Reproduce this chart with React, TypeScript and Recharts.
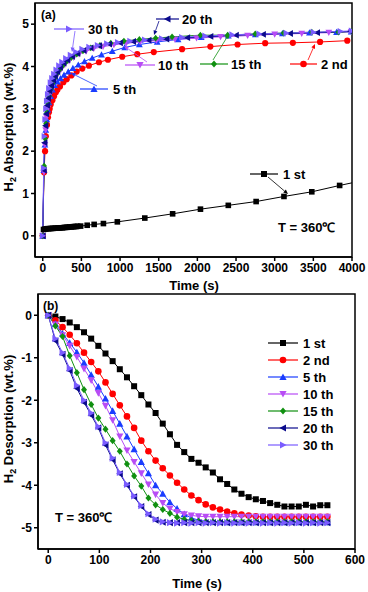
// Hydrogen absorption / desorption kinetics at 360 °C over cycling — two stacked panels.
import React from "react";
import { LineChart, Line, XAxis, YAxis, ReferenceArea } from "recharts";

const FONT = '"Liberation Sans", Arial, Helvetica, sans-serif';

// ---- series names / styles ----
const cycleNames = ["1 st", "2 nd", "5 th", "10 th", "15 th", "20 th", "30 th"];
const cycleColors = ["#000000", "#ff0000", "#1a3cff", "#b84cf5", "#109010", "#0a0a8c", "#7a5cff"];
const cycleShapes = ["square", "circle", "up", "down", "diamond", "left", "right"];

// ---- (a) absorption, time in s, value in wt.% ----
const abs1T = [0, 10, 30, 50, 70, 90, 110, 130, 150, 170, 190, 210, 230, 250, 270, 290, 310, 330, 350, 370, 390, 410, 430, 450, 490, 575, 665, 785, 965, 1320, 1680, 2040, 2400, 2760, 3120, 3480, 3840, 4200];
const abs1V = [0, 0.15, 0.16, 0.165, 0.17, 0.17, 0.175, 0.175, 0.18, 0.18, 0.185, 0.185, 0.19, 0.19, 0.195, 0.2, 0.2, 0.205, 0.21, 0.21, 0.215, 0.22, 0.22, 0.225, 0.23, 0.25, 0.27, 0.29, 0.33, 0.42, 0.52, 0.63, 0.72, 0.81, 0.93, 1.04, 1.19, 1.33];

const abs2T = [0, 17, 30, 40, 55, 68, 80, 90, 103, 125, 146, 170, 190, 223, 267, 310, 370, 439, 512, 597, 727, 843, 1028, 1222, 1436, 1802, 2168, 2520, 2877, 3235, 3587, 3939];
const abs2V = [0, 1.5, 2.0, 2.35, 2.62, 2.8, 2.92, 3.0, 3.1, 3.2, 3.3, 3.39, 3.45, 3.53, 3.63, 3.7, 3.79, 3.88, 3.95, 4.02, 4.1, 4.16, 4.23, 4.29, 4.34, 4.41, 4.47, 4.52, 4.55, 4.56, 4.58, 4.61];

const abs5T = [0, 15, 28, 40, 52, 65, 80, 100, 125, 155, 190, 230, 275, 330, 390, 460, 540, 640, 760, 900, 1060, 1250, 1480, 1750, 2050, 2400, 2750, 3100, 3450, 3800, 3990];
const abs5V = [0, 1.55, 2.15, 2.5, 2.75, 2.98, 3.15, 3.3, 3.45, 3.56, 3.64, 3.72, 3.8, 3.88, 3.96, 4.04, 4.12, 4.2, 4.28, 4.36, 4.45, 4.52, 4.58, 4.64, 4.69, 4.73, 4.76, 4.78, 4.8, 4.81, 4.82];

const abs10T = [0, 16, 27, 38, 50, 62, 78, 95, 118, 142, 170, 200, 240, 285, 340, 400, 470, 560, 660, 780, 920, 1080, 1260, 1470, 1710, 1990, 2300, 2650, 3000, 3350, 3700, 3990];
const abs10V = [0, 1.5, 2.15, 2.5, 2.8, 3.0, 3.2, 3.36, 3.5, 3.63, 3.74, 3.84, 3.94, 4.04, 4.13, 4.21, 4.29, 4.36, 4.42, 4.47, 4.51, 4.55, 4.58, 4.61, 4.64, 4.67, 4.7, 4.73, 4.76, 4.78, 4.8, 4.82];

const abs15T = [0, 18, 30, 42, 55, 68, 85, 105, 128, 155, 185, 220, 262, 310, 370, 440, 520, 620, 740, 880, 1050, 1250, 1460, 1673, 2039, 2391, 2748, 3114, 3480, 3823, 3995];
const abs15V = [0, 1.65, 2.3, 2.65, 2.92, 3.12, 3.3, 3.46, 3.6, 3.72, 3.83, 3.93, 4.03, 4.12, 4.21, 4.29, 4.37, 4.44, 4.5, 4.55, 4.6, 4.64, 4.67, 4.7, 4.74, 4.74, 4.77, 4.79, 4.81, 4.81, 4.83];

const abs20T = [0, 15, 25, 35, 45, 58, 72, 90, 110, 135, 160, 190, 225, 270, 320, 380, 450, 530, 620, 730, 860, 1000, 1170, 1370, 1600, 1870, 2170, 2500, 2850, 3200, 3550, 3980];
const abs20V = [0, 1.55, 2.2, 2.6, 2.88, 3.08, 3.25, 3.42, 3.55, 3.68, 3.78, 3.88, 3.98, 4.08, 4.16, 4.24, 4.31, 4.38, 4.44, 4.49, 4.53, 4.56, 4.59, 4.62, 4.65, 4.68, 4.71, 4.74, 4.76, 4.78, 4.8, 4.83];

const abs30T = [0, 12, 22, 32, 42, 52, 65, 80, 100, 120, 145, 175, 210, 250, 300, 360, 430, 510, 600, 710, 830, 970, 1130, 1320, 1540, 1800, 2100, 2450, 2800, 3150, 3500, 3850, 3995];
const abs30V = [0, 1.6, 2.35, 2.75, 3.0, 3.18, 3.34, 3.48, 3.62, 3.72, 3.82, 3.92, 4.02, 4.1, 4.19, 4.27, 4.34, 4.41, 4.46, 4.5, 4.54, 4.57, 4.6, 4.63, 4.66, 4.69, 4.72, 4.75, 4.77, 4.79, 4.81, 4.83, 4.84];

const absTicksX = [0, 500, 1000, 1500, 2000, 2500, 3000, 3500, 4000];
const absTicksY = [0, 1, 2, 3, 4, 5];

// ---- (b) desorption, shared time base ----
const desT = [0, 14, 28, 42, 56, 70, 84, 98, 112, 126, 140, 154, 168, 182, 196, 210, 224, 238, 252, 266, 280, 294, 308, 322, 336, 350, 364, 378, 392, 406, 420, 434, 448, 462, 476, 490, 504, 518, 532, 546];
const des1 = [0, -0.03, -0.09, -0.17, -0.28, -0.4, -0.55, -0.72, -0.9, -1.08, -1.27, -1.46, -1.67, -1.88, -2.1, -2.3, -2.55, -2.8, -3.05, -3.22, -3.38, -3.47, -3.58, -3.7, -3.86, -3.97, -4.1, -4.2, -4.28, -4.33, -4.37, -4.42, -4.46, -4.5, -4.5, -4.5, -4.46, -4.5, -4.47, -4.47];
const des2 = [0, -0.12, -0.28, -0.46, -0.66, -0.88, -1.1, -1.32, -1.58, -1.85, -2.12, -2.38, -2.65, -2.95, -3.2, -3.42, -3.6, -3.77, -3.94, -4.1, -4.24, -4.35, -4.45, -4.52, -4.57, -4.62, -4.66, -4.69, -4.71, -4.73, -4.74, -4.74, -4.74, -4.74, -4.74, -4.74, -4.74, -4.74, -4.74, -4.74];
const des5 = [0, -0.2, -0.43, -0.65, -0.87, -1.12, -1.4, -1.68, -1.96, -2.25, -2.55, -2.85, -3.15, -3.45, -3.72, -4.0, -4.2, -4.4, -4.55, -4.68, -4.77, -4.82, -4.85, -4.86, -4.86, -4.87, -4.86, -4.87, -4.86, -4.87, -4.86, -4.87, -4.86, -4.87, -4.86, -4.87, -4.86, -4.87, -4.86, -4.87];
const des10 = [0, -0.22, -0.47, -0.72, -0.98, -1.26, -1.53, -1.83, -2.13, -2.47, -2.85, -3.18, -3.45, -3.72, -3.98, -4.22, -4.42, -4.55, -4.63, -4.68, -4.71, -4.73, -4.74, -4.74, -4.74, -4.74, -4.74, -4.74, -4.74, -4.74, -4.74, -4.74, -4.74, -4.74, -4.74, -4.74, -4.74, -4.74, -4.74, -4.74];
const des15 = [0, -0.25, -0.5, -0.95, -1.35, -1.75, -2.1, -2.42, -2.68, -2.95, -3.2, -3.5, -3.78, -4.02, -4.3, -4.46, -4.57, -4.66, -4.75, -4.8, -4.83, -4.85, -4.86, -4.86, -4.86, -4.86, -4.86, -4.86, -4.86, -4.86, -4.86, -4.86, -4.86, -4.86, -4.86, -4.86, -4.86, -4.86, -4.86, -4.86];
const des20 = [0, -0.6, -0.92, -1.3, -1.72, -2.05, -2.35, -2.65, -3.05, -3.4, -3.73, -4.0, -4.27, -4.5, -4.69, -4.82, -4.87, -4.88, -4.88, -4.88, -4.88, -4.88, -4.88, -4.88, -4.88, -4.88, -4.88, -4.88, -4.88, -4.88, -4.88, -4.88, -4.88, -4.88, -4.88, -4.88, -4.88, -4.88, -4.88, -4.88];
const des30 = [0, -0.55, -0.88, -1.25, -1.65, -2.0, -2.3, -2.62, -3.0, -3.36, -3.7, -3.98, -4.25, -4.48, -4.67, -4.8, -4.86, -4.88, -4.89, -4.88, -4.89, -4.88, -4.89, -4.88, -4.89, -4.88, -4.89, -4.88, -4.89, -4.88, -4.89, -4.88, -4.89, -4.88, -4.89, -4.88, -4.89, -4.88, -4.89, -4.88];

const desTicksX = [0, 100, 200, 300, 400, 500, 600];
const desTicksY = [-5, -4, -3, -2, -1, 0];

const zip = (ts: number[], vs: number[]) => ts.map((t, i) => ({ t, v: vs[i] }));

const absSeries = [
  zip(abs1T, abs1V), zip(abs2T, abs2V), zip(abs5T, abs5V), zip(abs10T, abs10V),
  zip(abs15T, abs15V), zip(abs20T, abs20V), zip(abs30T, abs30V),
];
const desSeries = [des1, des2, des5, des10, des15, des20, des30].map((vs) => zip(desT, vs));

// marker glyph shared by the plots, the annotations and the legend
function Glyph({ shape, x, y, color, r = 3 }: { shape: string; x: number; y: number; color: string; r?: number }) {
  const q = r + 0.6;
  switch (shape) {
    case "square":
      return <rect x={x - r} y={y - r} width={2 * r} height={2 * r} fill={color} />;
    case "circle":
      return <circle cx={x} cy={y} r={r + 0.3} fill={color} />;
    case "up":
      return <polygon points={`${x},${y - q} ${x + q},${y + r} ${x - q},${y + r}`} fill={color} />;
    case "down":
      return <polygon points={`${x},${y + q} ${x + q},${y - r} ${x - q},${y - r}`} fill={color} />;
    case "left":
      return <polygon points={`${x - q},${y} ${x + r},${y - q} ${x + r},${y + q}`} fill={color} />;
    case "right":
      return <polygon points={`${x + q},${y} ${x - r},${y - q} ${x - r},${y + q}`} fill={color} />;
    default:
      return <polygon points={`${x},${y - q} ${x + r},${y} ${x},${y + q} ${x - r},${y}`} fill={color} />;
  }
}

const dotFor = (shape: string, color: string, r: number) => (p: any) =>
  p.cx == null || p.cy == null ? (
    <g key={p.index} />
  ) : (
    <Glyph key={p.index} shape={shape} x={p.cx} y={p.cy} color={color} r={r} />
  );

function Arrow({ x1, y1, x2, y2, color }: { x1: number; y1: number; x2: number; y2: number; color: string }) {
  const a = Math.atan2(y2 - y1, x2 - x1);
  const h = 4.5;
  const w = 2;
  const bx = x2 - h * Math.cos(a);
  const by = y2 - h * Math.sin(a);
  const px = -Math.sin(a) * w;
  const py = Math.cos(a) * w;
  return (
    <g>
      <line x1={x1} y1={y1} x2={bx} y2={by} stroke={color} strokeWidth={0.8} />
      <polygon points={`${x2},${y2} ${bx + px},${by + py} ${bx - px},${by - py}`} fill={color} />
    </g>
  );
}

// annotation boxes of panel (a): [series index, segment x0, x1, y, text x, arrow from/to]
const absNotes = [
  { i: 6, x0: 54, x1: 84, y: 29, tx: 88, ax: [75, 31, 72, 52] },
  { i: 5, x0: 156, x1: 179, y: 19, tx: 182, ax: [159, 21, 154, 35] },
  { i: 3, x0: 125, x1: 155, y: 65, tx: 158, ax: [147, 62, 124, 46] },
  { i: 4, x0: 200, x1: 228, y: 64, tx: 231, ax: [213, 60, 229, 34] },
  { i: 1, x0: 290, x1: 317, y: 64, tx: 321, ax: [308, 60, 315, 44] },
  { i: 2, x0: 80, x1: 108, y: 89, tx: 113, ax: [97, 86, 71, 73] },
  { i: 0, x0: 250, x1: 278, y: 174, tx: 283, ax: [268, 177, 288, 194] },
];

const axisStroke = { stroke: "#000", strokeWidth: 1.5 };
const tickFont = { fontSize: 12, fontWeight: 700, fill: "#000", fontFamily: FONT };
const textStyle = { fontSize: 13, fontWeight: 700, fill: "#000", fontFamily: FONT } as const;

export default function App() {
  return (
    <div style={{ position: "absolute", left: 0, top: 0, width: 368, height: 592, background: "#fff" }}>
      <div style={{ position: "absolute", left: 0, top: 0 }}>
        <LineChart width={368} height={292} margin={{ top: 3, right: 16, bottom: 0, left: 0 }}>
          <XAxis type="number" dataKey="t" domain={[-100, 4000]} ticks={absTicksX} interval={0}
            allowDataOverflow height={35} tickSize={4} tick={tickFont} tickLine={axisStroke} axisLine={axisStroke} />
          <YAxis type="number" domain={[-0.5, 5.5]} ticks={absTicksY} interval={0}
            allowDataOverflow width={35} tickSize={4} tick={tickFont} tickLine={axisStroke} axisLine={axisStroke} />
          <ReferenceArea x1={-100} x2={4000} y1={-0.5} y2={5.5} fill="none" stroke="#000" strokeWidth={1.5} ifOverflow="visible" />
          {absSeries.map((d, i) => (
            <Line key={cycleNames[i]} data={d} dataKey="v" stroke={cycleColors[i]} strokeWidth={1}
              dot={dotFor(cycleShapes[i], cycleColors[i], 2.8)} activeDot={false} isAnimationActive={false} />
          ))}
        </LineChart>
      </div>

      <div style={{ position: "absolute", left: 0, top: 292 }}>
        <LineChart width={368} height={300} margin={{ top: 2, right: 13, bottom: 0, left: 0 }}>
          <XAxis type="number" dataKey="t" domain={[-20, 600]} ticks={desTicksX} interval={0}
            height={43} tickSize={4} tick={tickFont} tickLine={axisStroke} axisLine={axisStroke} />
          <YAxis type="number" domain={[-5.5, 0.5]} ticks={desTicksY} interval={0}
            width={38} tickSize={4} tick={tickFont} tickLine={axisStroke} axisLine={axisStroke} />
          <ReferenceArea x1={-20} x2={600} y1={-5.5} y2={0.5} fill="none" stroke="#000" strokeWidth={1.5} ifOverflow="visible" />
          {desSeries.map((d, i) => (
            <Line key={cycleNames[i]} data={d} dataKey="v" stroke={cycleColors[i]} strokeWidth={1}
              dot={dotFor(cycleShapes[i], cycleColors[i], 3)} activeDot={false} isAnimationActive={false} />
          ))}
        </LineChart>
      </div>

      {/* titles, annotations and legend */}
      <svg width={368} height={592} style={{ position: "absolute", left: 0, top: 0, pointerEvents: "none" }}>
        <text x={41} y={19} {...textStyle} fontSize={12}>(a)</text>
        <text x={43} y={310} {...textStyle} fontSize={12}>(b)</text>

        <text transform="rotate(-90)" x={-127} y={13} textAnchor="middle" {...textStyle}>
          <tspan>H</tspan>
          <tspan fontSize={9} dy={3}>2</tspan>
          <tspan dy={-3}> Absorption (wt.%)</tspan>
        </text>
        <text transform="rotate(-90)" x={-419} y={13} textAnchor="middle" {...textStyle}>
          <tspan>H</tspan>
          <tspan fontSize={9} dy={3}>2</tspan>
          <tspan dy={-3}> Desorption (wt.%)</tspan>
        </text>
        <text x={194} y={290} textAnchor="middle" {...textStyle}>Time (s)</text>
        <text x={197} y={588} textAnchor="middle" {...textStyle}>Time (s)</text>

        <text x={278} y={232} {...textStyle}>T = 360℃</text>
        <text x={55} y={522} {...textStyle}>T = 360℃</text>

        {absNotes.map((n) => (
          <g key={n.i}>
            <line x1={n.x0} y1={n.y} x2={n.x1} y2={n.y} stroke={cycleColors[n.i]} strokeWidth={1.2} />
            <Glyph shape={cycleShapes[n.i]} x={(n.x0 + n.x1) / 2} y={n.y} color={cycleColors[n.i]} r={3} />
            <text x={n.tx} y={n.y + 4.5} {...textStyle}>{cycleNames[n.i]}</text>
            <Arrow x1={n.ax[0]} y1={n.ax[1]} x2={n.ax[2]} y2={n.ax[3]} color={cycleColors[n.i]} />
          </g>
        ))}

        {cycleNames.map((name, i) => {
          const y = 343 + i * 17;
          return (
            <g key={name}>
              <line x1={268} y1={y} x2={298} y2={y} stroke={cycleColors[i]} strokeWidth={1.2} />
              <Glyph shape={cycleShapes[i]} x={283} y={y} color={cycleColors[i]} r={3} />
              <text x={303} y={y + 4.5} {...textStyle}>{name}</text>
            </g>
          );
        })}
      </svg>
    </div>
  );
}
